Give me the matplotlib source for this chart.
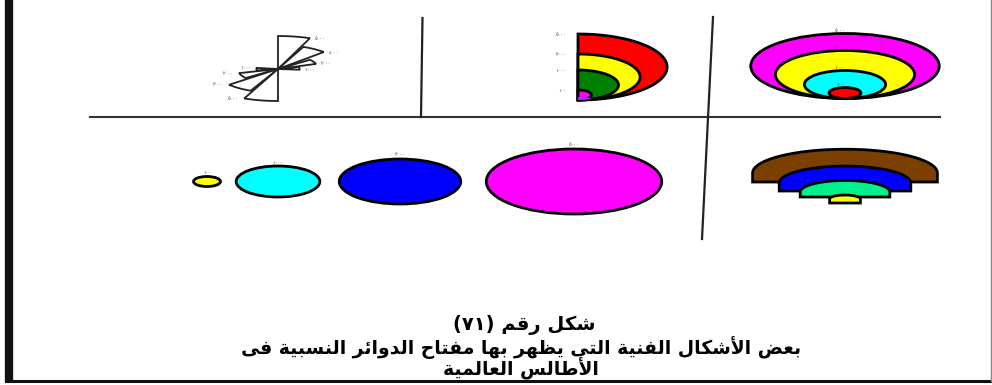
import re
import numpy as np
import matplotlib
matplotlib.use("Agg")
import matplotlib.pyplot as plt
from matplotlib.patches import Ellipse, Polygon

# -----------------------------
# Data
# -----------------------------
# rose diagram (top left): sector angles in degrees and sector lengths
rose_start = [69, 45, 20, -5, 172, 196, 221, 247]
rose_end = [90, 67, 38, 15, 190, 217, 245, 270]
rose_len = [33, 24, 15, 8, 8, 15, 24, 32]
rose_labels = ["٥٠٠٠", "٤٠٠٠", "٢٠٠٠", "١٠٠٠", "١٠٠٠", "٢٠٠٠", "٣٠٠٠", "٥٠٠٠"]

# nested half circles (top middle)
half_r = [33, 23, 15, 5]
half_colors = ["#ff0000", "#ffff00", "#008000", "#ff00ff"]
half_labels = ["٥٠٠٠", "٣٠٠٠", "١٠٠٠", "١٠٠"]

# nested circles touching at the bottom (top right)
ring_r = [32.5, 24, 14, 5.5]
ring_colors = ["#ff00ff", "#ffff00", "#00ffff", "#ff0000"]
ring_labels = ["٥٠٠٠", "٣٠٠٠", "١٠٠٠", "١٠٠"]

# separate proportional circles (bottom left)
circle_r = [5, 15.5, 22.5, 32.5]
circle_colors = ["#ffff00", "#00ffff", "#0000ff", "#ff00ff"]
circle_labels = ["١٠٠", "١٠٠٠", "٣٠٠٠", "٥٠٠٠"]

# stacked half circles on steps (bottom right)
stack_r = [33, 23.5, 16, 5.5]
stack_colors = ["#7b3f00", "#0000ff", "#00f08c", "#ffff00"]

caption = ["شكل رقم (٧١)",
           "بعض الأشكال الفنية التى يظهر بها مفتاح الدوائر النسبية فى",
           "الأطالس العالمية"]

# -----------------------------
# Minimal Arabic shaping (presentation forms + visual order)
# -----------------------------
# isolated, final, initial, medial
FORMS = {
    'ا': ('\uFE8D', '\uFE8E', None, None), 'أ': ('\uFE83', '\uFE84', None, None),
    'ب': ('\uFE8F', '\uFE90', '\uFE91', '\uFE92'), 'ة': ('\uFE93', '\uFE94', None, None),
    'ت': ('\uFE95', '\uFE96', '\uFE97', '\uFE98'), 'ح': ('\uFEA1', '\uFEA2', '\uFEA3', '\uFEA4'),
    'د': ('\uFEA9', '\uFEAA', None, None), 'ر': ('\uFEAD', '\uFEAE', None, None),
    'س': ('\uFEB1', '\uFEB2', '\uFEB3', '\uFEB4'), 'ش': ('\uFEB5', '\uFEB6', '\uFEB7', '\uFEB8'),
    'ض': ('\uFEBD', '\uFEBE', '\uFEBF', '\uFEC0'), 'ط': ('\uFEC1', '\uFEC2', '\uFEC3', '\uFEC4'),
    'ظ': ('\uFEC5', '\uFEC6', '\uFEC7', '\uFEC8'), 'ع': ('\uFEC9', '\uFECA', '\uFECB', '\uFECC'),
    'ف': ('\uFED1', '\uFED2', '\uFED3', '\uFED4'), 'ق': ('\uFED5', '\uFED6', '\uFED7', '\uFED8'),
    'ك': ('\uFED9', '\uFEDA', '\uFEDB', '\uFEDC'), 'ل': ('\uFEDD', '\uFEDE', '\uFEDF', '\uFEE0'),
    'م': ('\uFEE1', '\uFEE2', '\uFEE3', '\uFEE4'), 'ن': ('\uFEE5', '\uFEE6', '\uFEE7', '\uFEE8'),
    'ه': ('\uFEE9', '\uFEEA', '\uFEEB', '\uFEEC'), 'و': ('\uFEED', '\uFEEE', None, None),
    'ى': ('\uFEEF', '\uFEF0', None, None), 'ي': ('\uFEF1', '\uFEF2', '\uFEF3', '\uFEF4'),
    'ئ': ('\uFE89', '\uFE8A', '\uFE8B', '\uFE8C'),
}
LAM_ALEF = {'ا': ('\uFEFB', '\uFEFC'), 'أ': ('\uFEF7', '\uFEF8')}


def shape(text):
    out = []
    chars = list(text)
    i = 0
    prev_joins = False  # previous letter can join to the next one
    while i < len(chars):
        c = chars[i]
        if c not in FORMS:
            out.append(c)
            prev_joins = False
            i += 1
            continue
        if c == 'ل' and i + 1 < len(chars) and chars[i + 1] in LAM_ALEF:
            iso, fin = LAM_ALEF[chars[i + 1]]
            out.append(fin if prev_joins else iso)
            prev_joins = False
            i += 2
            continue
        f = FORMS[c]
        nxt = chars[i + 1] if i + 1 < len(chars) else None
        join_next = f[2] is not None and nxt in FORMS
        if prev_joins and join_next:
            out.append(f[3])
        elif prev_joins:
            out.append(f[1])
        elif join_next:
            out.append(f[2])
        else:
            out.append(f[0])
        prev_joins = f[2] is not None
        i += 1
    tokens = re.findall(r'[\u0660-\u06690-9]+|.', ''.join(out))
    mirror = {'(': ')', ')': '('}
    return ''.join(mirror.get(t, t) for t in reversed(tokens))


def half_ellipse(cx, cy, rx, ry, t0, t1, n=120):
    t = np.radians(np.linspace(t0, t1, n))
    return np.column_stack([cx + rx * np.cos(t), cy - ry * np.sin(t)])


# -----------------------------
# Figure in pixel coordinates
# -----------------------------
fig = plt.figure(figsize=(9.92, 3.85), dpi=100)
ax = fig.add_axes([0, 0, 1, 1])
ax.set_xlim(0, 992)
ax.set_ylim(385, 0)
ax.axis("off")

EDGE = dict(edgecolor="black", linewidth=2)
LBL = dict(fontsize=3.5, color="#444444", family="DejaVu Sans")

# frame and dividers
ax.plot([9, 9], [0, 381], color="#111111", lw=6, solid_capstyle="butt")
ax.plot([6, 992], [380.5, 380.5], color="#111111", lw=2.2)
ax.plot([990.5, 990.5], [0, 381], color="#888888", lw=1)
ax.plot([90, 940], [117, 117], color="#333333", lw=1.5)
ax.plot([422.5, 421], [18, 117], color="#222222", lw=1.6)
ax.plot([713, 702], [17, 239], color="#222222", lw=1.6)

# rose diagram
rc = (278, 69)
sx = 2.7
for a0, a1, r, lab in zip(rose_start, rose_end, rose_len, rose_labels):
    pts = np.vstack([[rc], half_ellipse(rc[0], rc[1], sx * r, r, a0, a1, 40), [rc]])
    ax.add_patch(Polygon(pts, closed=True, facecolor="white", edgecolor="#222222", lw=1.3))
    px = rc[0] + sx * r * np.cos(np.radians(a0))
    py = rc[1] - r * np.sin(np.radians(a0))
    if np.cos(np.radians(a0)) >= 0:
        ax.text(px + 5, py, lab, ha="left", va="center", **LBL)
    else:
        ax.text(px - 6, py, lab, ha="right", va="center", **LBL)

# nested half circles
hx, hy = 578, 100
sx = 2.7
for r, col, lab in zip(half_r, half_colors, half_labels):
    pts = half_ellipse(hx, hy - r, sx * r, r, -90, 90)
    ax.add_patch(Polygon(pts, closed=True, facecolor=col, **EDGE))
    ax.text(hx - 12, hy - 2 * r, lab, ha="right", va="center", **LBL)
ax.add_patch(Polygon(half_ellipse(hx, hy - 1.5, 13, 1.5, -90, 90), closed=True,
                     facecolor="#9933ff", edgecolor="none"))

# nested circles touching at the bottom
ex, ey = 845, 98.5
sx = 2.9
for r, col, lab in zip(ring_r, ring_colors, ring_labels):
    ax.add_patch(Ellipse((ex, ey - r), 2 * sx * r, 2 * r, facecolor=col, **EDGE))
    ax.text(ex - 5, ey - 2 * r - 3, lab, ha="center", va="center", **LBL)

# separate circles
cx_list = [207, 278, 400, 574]
cy = 181.5
sx = 2.7
for x, r, col, lab in zip(cx_list, circle_r, circle_colors, circle_labels):
    ax.add_patch(Ellipse((x, cy), 2 * sx * r, 2 * r, facecolor=col, **EDGE))
    ax.text(x, cy - r - 4, lab, ha="center", va="center", **LBL)

# stacked half circles, each sitting on a short step
stx = 845
arc_base = [173, 183, 192, 199]
step_h = [9, 8, 5, 4]
sx, sy = 2.8, 0.72
for r, col, b, h in zip(stack_r, stack_colors, arc_base, step_h):
    arc = half_ellipse(stx, b, sx * r, sy * r, 0, 180)
    pts = np.vstack([[[stx + sx * r, b + h]], arc, [[stx - sx * r, b + h]]])
    ax.add_patch(Polygon(pts, closed=True, facecolor=col, **EDGE))

# caption
fam = ["DejaVu Sans"]
ax.text(524, 325, shape(caption[0]), ha="center", va="center", fontsize=14,
        fontweight="bold", family=fam)
ax.text(521, 358, shape(caption[1]) + "\n" + shape(caption[2]), ha="center",
        va="center", multialignment="center", fontsize=13.5, linespacing=0.95,
        fontweight="bold", family=fam)

fig.savefig("out.png", dpi=100)
